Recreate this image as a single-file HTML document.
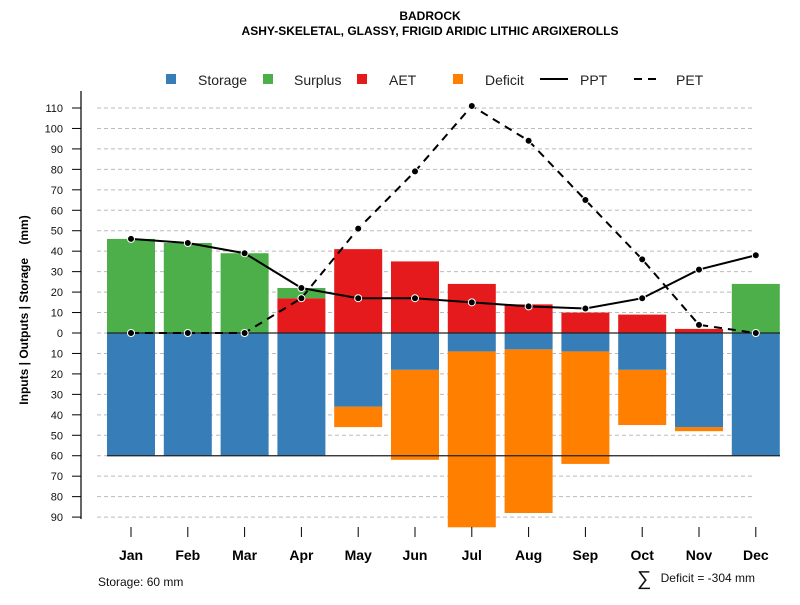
<!DOCTYPE html>
<html><head><meta charset="utf-8"><style>
body{margin:0;background:#fff}
svg text{font-family:"Liberation Sans",sans-serif}
</style></head><body>
<svg id="c" width="800" height="600" xmlns="http://www.w3.org/2000/svg">
<text x="430" y="20" text-anchor="middle" font-size="12" font-weight="bold">BADROCK</text>
<text x="430" y="35" text-anchor="middle" font-size="12" font-weight="bold">ASHY-SKELETAL, GLASSY, FRIGID ARIDIC LITHIC ARGIXEROLLS</text>
<text transform="translate(28,310) rotate(-90)" text-anchor="middle" font-size="12" font-weight="bold" xml:space="preserve">Inputs | Outputs | Storage    (mm)</text>
<g>
<rect x="166" y="74" width="10" height="10" fill="#377EB8"/>
<text x="198" y="85" font-size="14" fill="#222">Storage</text>
<rect x="263" y="74" width="10" height="10" fill="#4DAF4A"/>
<text x="294" y="85" font-size="14" fill="#222">Surplus</text>
<rect x="357" y="74" width="10" height="10" fill="#E41A1C"/>
<text x="389" y="85" font-size="14" fill="#222">AET</text>
<rect x="453" y="74" width="10" height="10" fill="#FF7F00"/>
<text x="485" y="85" font-size="14" fill="#222">Deficit</text>
<line x1="540" y1="79" x2="568" y2="79" stroke="#000" stroke-width="2"/>
<text x="580" y="85" font-size="14" fill="#222">PPT</text>
<line x1="634" y1="79" x2="660" y2="79" stroke="#000" stroke-width="2" stroke-dasharray="8,6"/>
<text x="676" y="85" font-size="14" fill="#222">PET</text>
</g>
<g id="plot"></g>
<text x="98" y="586" font-size="12" fill="#111">Storage: 60 mm</text>
<text x="637" y="585" font-size="20" fill="#111">∑</text>
<text x="755" y="582" text-anchor="end" font-size="12" fill="#111">Deficit = -304 mm</text>
</svg>
<script>
const months=["Jan","Feb","Mar","Apr","May","Jun","Jul","Aug","Sep","Oct","Nov","Dec"];
const ppt=[46,44,39,22,17,17,15,13,12,17,31,38];
const pet=[0,0,0,17,51,79,111,94,65,36,4,0];
const aet=[0,0,0,17,41,35,24,14,10,9,2,0];
const surplus=[46,44,39,5,0,0,0,0,0,0,0,24];
const storage=[60,60,60,60,36,18,9,8,9,18,46,60];
const deficit=[0,0,0,0,10,44,86,80,55,27,2,0];
const yTicks=[110,100,90,80,70,60,50,40,30,20,10,0,-10,-20,-30,-40,-50,-60,-70,-80,-90];
const SC=60;
const NS="http://www.w3.org/2000/svg";
const g=document.getElementById('plot');
const y=v=>333-v*225/110;
const x=i=>131+i*56.8;
const BW=48;
function mk(t,a){const e=document.createElementNS(NS,t);for(const k in a)e.setAttribute(k,a[k]);g.appendChild(e);return e;}
let e=mk('line',{x1:81,y1:91,x2:81,y2:519,stroke:'#666','stroke-width':2});


yTicks.forEach(t=>{
  const yy=y(t);
  let gl=mk('line',{x1:97,y1:yy,x2:755,y2:yy,stroke:'#bbb','stroke-dasharray':'4,3'});
  
  
  let tk=mk('line',{x1:72,y1:yy,x2:81,y2:yy,stroke:'#000'});
  
  
  let tl=mk('text',{x:63,y:yy+4,'text-anchor':'end','font-size':11,fill:'#111'});
  tl.textContent=Math.abs(t);
  
  
});
months.forEach((m,i)=>{
  const cx=x(i);
  function bar(v0,v1,col,name){
    if(v0===v1)return;
    const r=mk('rect',{x:cx-BW/2,y:Math.min(y(v0),y(v1)),width:BW,height:Math.abs(y(v0)-y(v1)),fill:col});
    
    
  }
  bar(-storage[i],-(storage[i]+deficit[i]),'#FF7F00','deficit-bar-'+m.toLowerCase());
  bar(0,-storage[i],'#377EB8','storage-bar-'+m.toLowerCase());
  bar(0,aet[i],'#E41A1C','aet-bar-'+m.toLowerCase());
  bar(aet[i],aet[i]+surplus[i],'#4DAF4A','surplus-bar-'+m.toLowerCase());
  let tk=mk('line',{x1:cx,y1:527,x2:cx,y2:537,stroke:'#000'});
  
  
  let t=mk('text',{x:cx,y:560,'text-anchor':'middle','font-size':14,'font-weight':'bold'});
  t.textContent=m;
  
  
});
[0,-SC].forEach(v=>{
  let l=mk('line',{x1:107,y1:y(v),x2:780,y2:y(v),stroke:'#222','stroke-width':1.2});
  
  
});
function series(arr,name,dash){
  const p=mk('polyline',{points:arr.map((v,i)=>x(i)+','+y(v)).join(' '),fill:'none',stroke:'#000','stroke-width':2,'stroke-dasharray':dash});
  
  
  arr.forEach((v,i)=>{
    const c=mk('circle',{cx:x(i),cy:y(v),r:3.5,fill:'#000',stroke:'#fff','stroke-width':1});
    
    
  });
}
series(pet,'pet','8,6');
series(ppt,'ppt','none');
</script>
</body></html>
